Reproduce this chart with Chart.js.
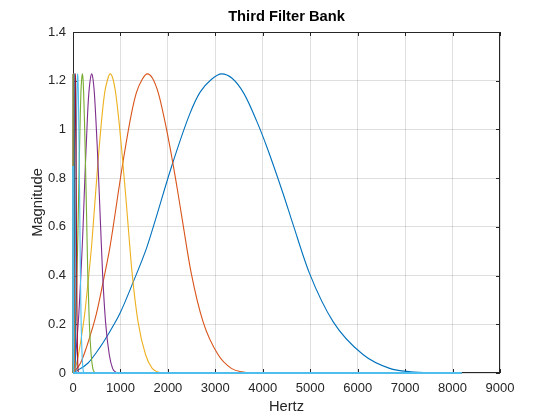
<!DOCTYPE html>
<html>
<head>
<meta charset="utf-8">
<script src="https://cdn.jsdelivr.net/npm/chart.js@4/dist/chart.umd.min.js"></script>
<style>
    html, body { margin: 0; padding: 0; background: #fff; }
    #wrap { width: 560px; height: 420px; }
</style>
</head>
<body>
<div id="wrap"><canvas id="js--chart"></canvas></div>
<script>
// magnitude (same shape for each octave)
const bandMag = [0, 0.04, 0.104, 0.149, 0.245, 0.375, 0.515, 0.60, 0.85, 1.066, 1.152, 1.205, 1.228,
    1.21, 1.147, 1.035, 0.929, 0.735, 0.61, 0.41, 0.21, 0.076, 0.019, 0.005, 0.001, 0];

const band1Hz = [0, 313, 564, 711, 990, 1272, 1554, 1692, 2081, 2466, 2676, 2915, 3134,
    3353, 3604, 3870, 4084, 4431, 4638, 4983, 5485, 6111, 6675, 7114, 7522, 8192];
const band2Hz = [0, 157, 282, 356, 495, 636, 777, 846, 1040, 1233, 1338, 1457, 1567,
    1676, 1802, 1935, 2042, 2216, 2319, 2492, 2742, 3056, 3338, 3557, 3761, 8192];
const band3Hz = [0, 78, 141, 178, 248, 318, 389, 423, 520, 617, 669, 729, 783,
    838, 901, 968, 1021, 1108, 1160, 1246, 1371, 1528, 1669, 1779, 1881, 8192];
const band4Hz = [0, 39, 71, 89, 124, 159, 194, 212, 260, 308, 335, 364, 392,
    419, 451, 484, 511, 554, 580, 623, 686, 764, 834, 889, 940, 8192];
const band5Hz = [0, 20, 35, 44, 62, 80, 97, 106, 130, 154, 167, 182, 196,
    210, 225, 242, 255, 277, 290, 311, 343, 382, 417, 445, 470, 8192];
const band6Hz = [0, 10, 18, 22, 31, 40, 49, 53, 65, 77, 84, 91, 98,
    105, 113, 121, 128, 139, 145, 156, 171, 191, 209, 222, 235, 8192];
const band7Hz = [0, 4.9, 8.8, 11.1, 15.5, 19.9, 24.3, 26.4, 32.5, 38.5, 41.8, 45.6, 49,
    52.4, 56.3, 60.5, 63.8, 69.2, 72.5, 77.9, 85.7, 95.5, 104.3, 111.2, 117.5, 8192];

// the narrow bands squeezed against 0 Hz
const tinyMag = [0, 0.515, 1.228, 0.61, 0, 0];
const band8Hz = [0, 12, 24.5, 36, 59, 8192];
const band9Hz = [0, 6, 12.2, 18, 29, 8192];
const band10Hz = [0, 3, 6.1, 9, 15, 8192];
const band11Hz = [0, 1.5, 3.1, 4.5, 7.4, 8192];
const band12Hz = [0, 0.75, 1.5, 2.3, 3.7, 8192];
const lowHz = [0, 1.5, 4, 8192];
const lowMag = [0.85, 0.45, 0, 0];

const xTicks = [0, 1000, 2000, 3000, 4000, 5000, 6000, 7000, 8000, 9000];
const yTicks = [0, 0.2, 0.4, 0.6, 0.8, 1, 1.2, 1.4];

const colors = ['#0072BD', '#D95319', '#EDB120', '#7E2F8E', '#77AC30', '#4DBEEE', '#A2142F'];

const bands = [
    [band1Hz, bandMag], [band2Hz, bandMag], [band3Hz, bandMag], [band4Hz, bandMag],
    [band5Hz, bandMag], [band6Hz, bandMag], [band7Hz, bandMag],
    [band8Hz, tinyMag], [band9Hz, tinyMag], [band10Hz, tinyMag], [band11Hz, tinyMag],
    [band12Hz, tinyMag], [lowHz, lowMag]
];

const axisColor = '#262626';
const fontFamily = "'Liberation Sans', Arial, Helvetica, sans-serif";

const datasets = bands.map(([hz, mag], i) => ({
    label: 'band ' + (i + 1),
    data: hz.map((f, k) => ({ x: f, y: mag[k] })),
    borderColor: colors[i % colors.length],
    borderWidth: i === bands.length - 1 ? 1.8 : 1.1,
    pointRadius: 0,
    fill: false,
    cubicInterpolationMode: 'monotone',
    clip: false,
    order: -i   // later lines on top, like the original
}));

// box, inward tick marks and title placed over the axes
const boxPlugin = {
    id: 'box',
    beforeDatasetsDraw(chart) {
        const { ctx, chartArea: a, scales: { x, y } } = chart;
        ctx.save();
        ctx.strokeStyle = axisColor;
        ctx.lineWidth = 1;
        ctx.beginPath();
        xTicks.forEach(v => {
            const p = Math.round(x.getPixelForValue(v)) + 0.5;
            ctx.moveTo(p, a.bottom); ctx.lineTo(p, a.bottom - 4);
            ctx.moveTo(p, a.top); ctx.lineTo(p, a.top + 4);
        });
        yTicks.forEach(v => {
            const p = Math.round(y.getPixelForValue(v)) + 0.5;
            ctx.moveTo(a.left, p); ctx.lineTo(a.left + 4, p);
            ctx.moveTo(a.right, p); ctx.lineTo(a.right - 4, p);
        });
        ctx.stroke();
        ctx.strokeRect(Math.round(a.left) + 0.5, Math.round(a.top) + 0.5,
            Math.round(a.width) - 1, Math.round(a.height) - 1);
        ctx.restore();
    },
    afterDraw(chart) {
        const { ctx, chartArea: a } = chart;
        ctx.save();
        ctx.fillStyle = '#000';
        ctx.font = 'bold 14.7px ' + fontFamily;
        ctx.textAlign = 'center';
        ctx.textBaseline = 'middle';
        ctx.fillText('Third Filter Bank', (a.left + a.right) / 2, 17);
        ctx.restore();
    }
};

new Chart(document.getElementById('js--chart'), {
    type: 'line',
    data: { datasets },
    plugins: [boxPlugin],
    options: {
        responsive: true,
        maintainAspectRatio: false,
        animation: false,
        layout: { padding: { top: 32, right: 60, left: 0, bottom: 0 } },
        plugins: {
            legend: { display: false },
            tooltip: { enabled: false }
        },
        scales: {
            x: {
                type: 'linear',
                min: 0,
                max: 9000,
                afterFit: s => { s.height = 47; },
                afterBuildTicks: s => { s.ticks = xTicks.map(v => ({ value: v })); },
                grid: { color: 'rgba(38,38,38,0.15)', drawTicks: false },
                border: { display: false },
                ticks: {
                    padding: 8,
                    color: axisColor,
                    maxRotation: 0,
                    font: { family: fontFamily, size: 13 },
                    callback: v => String(v)
                },
                title: {
                    display: true,
                    text: 'Hertz',
                    color: axisColor,
                    font: { family: fontFamily, size: 14.7 },
                    padding: { top: 0, bottom: 4 }
                }
            },
            y: {
                min: 0,
                max: 1.4,
                afterFit: s => { s.width = 73; },
                afterBuildTicks: s => { s.ticks = yTicks.map(v => ({ value: v })); },
                grid: { color: 'rgba(38,38,38,0.15)', drawTicks: false },
                border: { display: false },
                ticks: {
                    padding: 7,
                    color: axisColor,
                    font: { family: fontFamily, size: 13 },
                    callback: v => String(+v.toFixed(1))
                },
                title: {
                    display: true,
                    text: 'Magnitude',
                    color: axisColor,
                    font: { family: fontFamily, size: 14.7 },
                    padding: { top: 29, bottom: 0 }
                }
            }
        }
    }
});
</script>
</body>
</html>
